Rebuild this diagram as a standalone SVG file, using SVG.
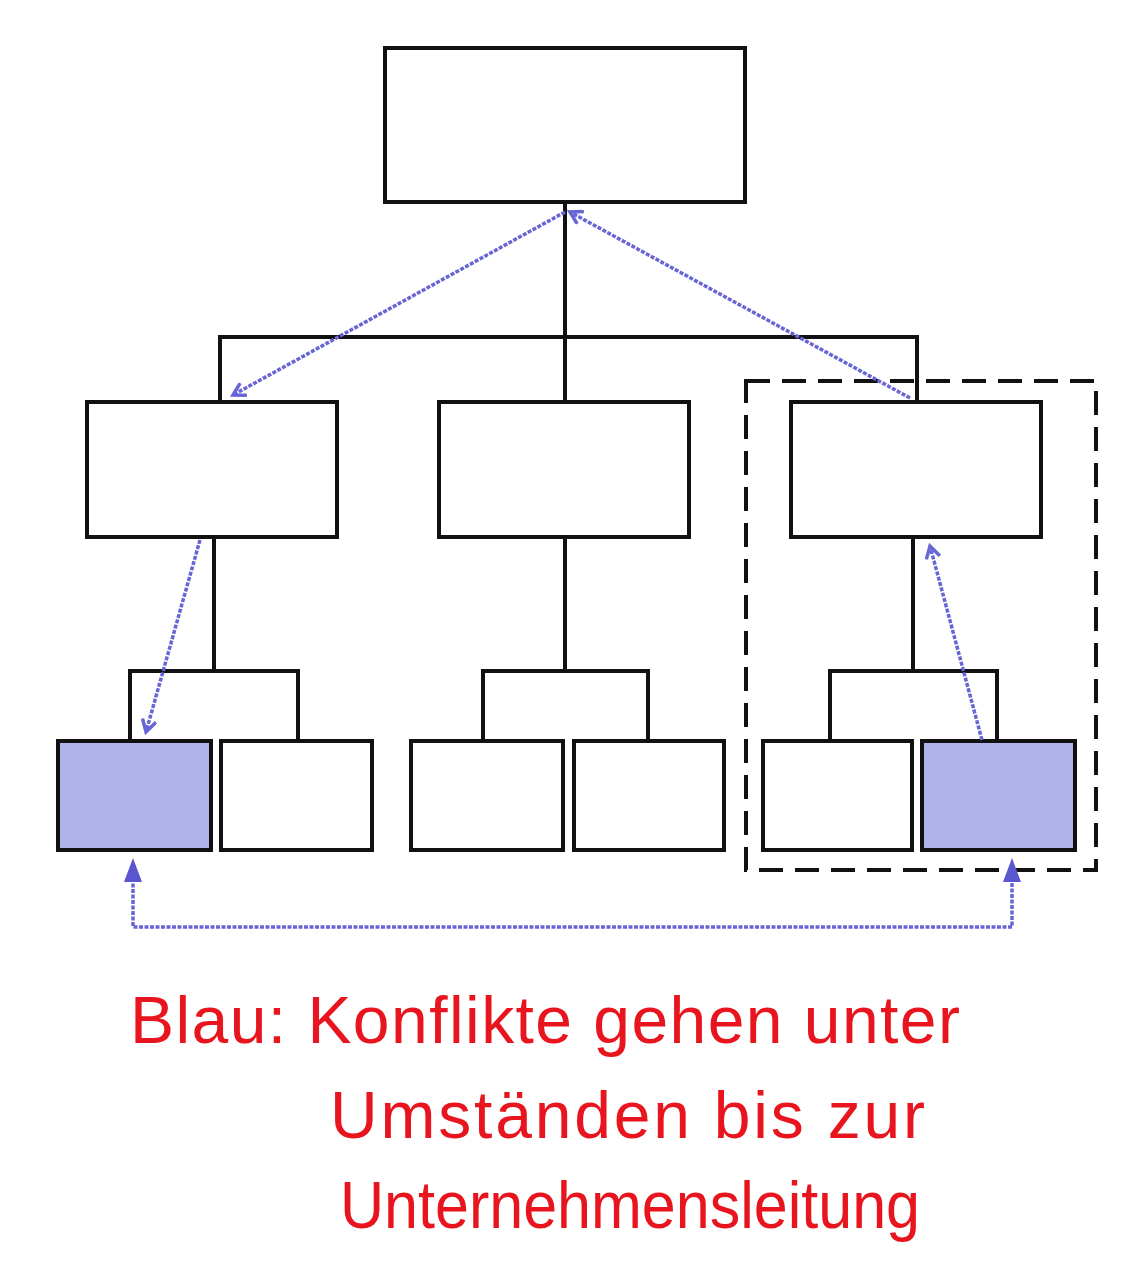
<svg xmlns="http://www.w3.org/2000/svg" width="1133" height="1265" viewBox="0 0 1133 1265">
<style>
.box{fill:#ffffff;stroke:#111111;stroke-width:4}
.hl{fill:#b0b3ea;stroke:#111111;stroke-width:4}
.tree{fill:none;stroke:#111111;stroke-width:4}
.blue{fill:none;stroke:#6865d4;stroke-width:3.5;stroke-dasharray:4 1.5}
.frame{fill:none;stroke:#111111;stroke-width:4;stroke-dasharray:24 12}
.note{fill:#e8141e;font-family:"Liberation Sans",Arial,sans-serif;font-size:66px}
</style>
<defs>
<marker id="open" markerWidth="16" markerHeight="16" refX="13" refY="8" orient="auto" markerUnits="userSpaceOnUse">
<path d="M1,1 L13,8 L1,15" fill="none" stroke="#6865d4" stroke-width="3.5"/>
</marker>
</defs>
<rect width="1133" height="1265" fill="#ffffff"/>
<g id="connectors">
<path class="tree" d="M565,202 V402 M220,402 V337 H917 V402"/>
<path class="tree" d="M214,537 V671 M130,741 V671 H298 V741"/>
<path class="tree" d="M565,537 V671 M483,741 V671 H648 V741"/>
<path class="tree" d="M913,537 V671 M830,741 V671 H997 V741"/>
</g>
<g id="frame"><rect class="frame" x="746" y="381" width="350" height="489"/></g>
<g id="n-top"><rect class="box" x="385" y="48" width="360" height="154"/></g>
<g id="n-mid-left"><rect class="box" x="87" y="402" width="250" height="135"/></g>
<g id="n-mid-center"><rect class="box" x="439" y="402" width="250" height="135"/></g>
<g id="n-mid-right"><rect class="box" x="791" y="402" width="250" height="135"/></g>
<g id="n-b1"><rect class="hl" x="58" y="741" width="153" height="109"/></g>
<g id="n-b2"><rect class="box" x="221" y="741" width="151" height="109"/></g>
<g id="n-b3"><rect class="box" x="411" y="741" width="152" height="109"/></g>
<g id="n-b4"><rect class="box" x="574" y="741" width="150" height="109"/></g>
<g id="n-b5"><rect class="box" x="763" y="741" width="149" height="109"/></g>
<g id="n-b6"><rect class="hl" x="922" y="741" width="153" height="109"/></g>
<g id="conflict-arrows">
<path class="blue" d="M565,212 L233,395" marker-end="url(#open)"/>
<path class="blue" d="M910,398 L570,212" marker-end="url(#open)"/>
<path class="blue" d="M200,540 L146,732" marker-end="url(#open)"/>
<path class="blue" d="M982,740 L930,546" marker-end="url(#open)"/>
<path class="blue" d="M133,878 V927 H1012 V878"/>
<path d="M133,858 L124,882 L142,882 Z M1012,858 L1003,882 L1021,882 Z" fill="#5a56d0"/>
</g>
<g id="note">
<text class="note" x="130" y="1043" textLength="830" lengthAdjust="spacing">Blau: Konflikte gehen unter</text>
<text class="note" x="330" y="1138" textLength="595" lengthAdjust="spacing">Umständen bis zur</text>
<text class="note" x="340" y="1228" textLength="580" lengthAdjust="spacingAndGlyphs">Unternehmensleitung</text>
</g>
</svg>
